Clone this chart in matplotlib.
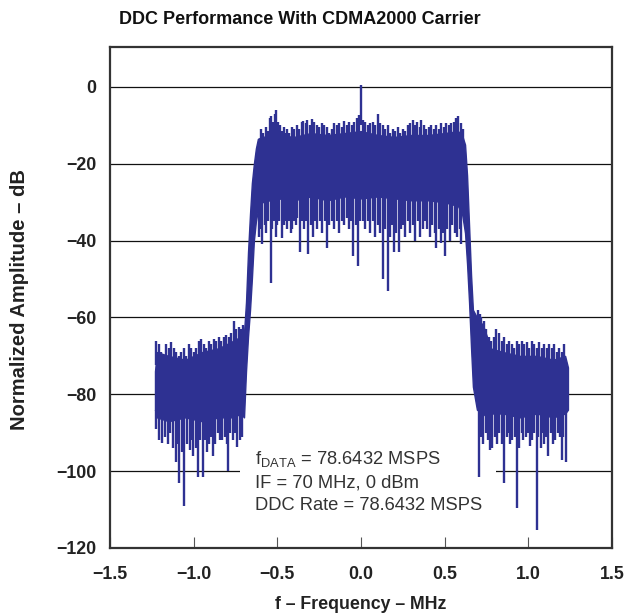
import numpy as np
import matplotlib
matplotlib.use("Agg")
import matplotlib.pyplot as plt
from matplotlib.patches import Rectangle

plt.rcParams['font.family'] = ['Liberation Sans', 'DejaVu Sans']

# solid part of the spectrum (MHz, dB)
freq = [-1.231, -1.22, -1.15, -1.05, -0.95, -0.85, -0.76, -0.72, -0.699, -0.687,
        -0.675, -0.663, -0.652, -0.640, -0.628, -0.616, -0.59, -0.5, -0.4, -0.3,
        -0.2, -0.1, 0.0, 0.1, 0.2, 0.3, 0.4, 0.5, 0.58, 0.604,
        0.622, 0.634, 0.646, 0.658, 0.669, 0.693, 0.729, 0.753, 0.771, 0.85,
        0.95, 1.05, 1.15, 1.22, 1.237]
upper = [-74, -69, -70, -71, -69, -68, -66, -65, -64, -56,
         -43, -33, -25, -20, -16, -13.5, -13, -12.5, -13, -12,
         -12.5, -12, -11.5, -12.5, -13, -12.5, -12.5, -12, -11.5, -12.5,
         -15, -23, -36, -49, -58, -60, -62, -65, -68, -69,
         -70, -70, -71, -70, -73]
lower = [-84, -86, -87, -86, -87, -86, -86, -85, -86, -74,
         -65, -58, -50, -40, -35, -32, -30, -29, -29.5, -28.5,
         -29.5, -28.5, -29, -28.5, -29, -29.5, -29.5, -30, -31, -33,
         -38, -46, -56, -68, -78, -84, -85, -86, -85, -85,
         -86, -85, -86, -85, -84]

# noise peaks above the solid band
peak_freq = [-1.225, -1.21, -1.195, -1.18, -1.165, -1.15, -1.135, -1.12, -1.105, -1.09,
             -1.075, -1.06, -1.045, -1.03, -1.015, -1.0, -0.985, -0.97, -0.955, -0.94,
             -0.925, -0.91, -0.895, -0.88, -0.865, -0.85, -0.835, -0.82, -0.805, -0.79,
             -0.775, -0.76, -0.745, -0.73, -0.715, -0.705,
             -0.60, -0.585, -0.57, -0.555, -0.545, -0.535, -0.525, -0.515, -0.505, -0.495,
             -0.485, -0.47, -0.46, -0.45, -0.44, -0.43, -0.415, -0.40, -0.385, -0.37,
             -0.355, -0.345, -0.33, -0.32, -0.305, -0.29, -0.28, -0.265, -0.25, -0.235,
             -0.22, -0.205, -0.19, -0.175, -0.16, -0.145, -0.13, -0.115, -0.10, -0.085,
             -0.07, -0.055, -0.04, -0.025, -0.012, 0.012, 0.025, 0.04, 0.055, 0.07,
             0.085, 0.10, 0.115, 0.13, 0.145, 0.16, 0.175, 0.19, 0.205, 0.22,
             0.235, 0.25, 0.265, 0.28, 0.295, 0.31, 0.325, 0.335, 0.35, 0.36,
             0.375, 0.39, 0.405, 0.42, 0.435, 0.45, 0.465, 0.48, 0.495, 0.51,
             0.525, 0.54, 0.555, 0.57, 0.58, 0.595, 0.61,
             0.70, 0.71, 0.72, 0.735, 0.75, 0.765, 0.78, 0.795, 0.81, 0.825,
             0.84, 0.855, 0.87, 0.885, 0.90, 0.915, 0.93, 0.945, 0.96, 0.975,
             0.99, 1.005, 1.02, 1.035, 1.05, 1.065, 1.08, 1.095, 1.11, 1.125,
             1.14, 1.155, 1.17, 1.185, 1.20, 1.215]
peak_db = [-66, -67, -69, -70, -67, -68, -66.5, -68, -69, -70,
           -69, -68, -70, -67, -68, -69, -68, -66, -65.5, -67,
           -68, -66, -67, -65.5, -66, -65, -66, -65, -64.5, -65,
           -64, -61, -63, -62.5, -63, -62,
           -11, -12, -10.5, -11.5, -8, -7.5, -9, -7, -6, -9,
           -10, -11.5, -10.5, -12, -11, -12, -10.5, -11, -10, -11,
           -9, -8.8, -9.5, -8.7, -10, -8.3, -9, -10, -10.5, -9.5,
           -10, -10.5, -12, -11, -9.5, -10, -9.3, -10.5, -8.8, -10,
           -9, -10, -9, -8, -7.3, -8.5, -9, -10, -9.5, -9,
           -10, -7, -9.5, -10, -11, -10, -12, -11, -11.5, -10.5,
           -12, -11, -11.5, -10, -9.5, -8.5, -10, -9, -10.5, -8.6,
           -10, -11, -10.5, -10, -11, -10, -11, -9.5, -10.5, -9.5,
           -10, -9.5, -9, -8, -7.5, -9.5, -11,
           -58, -59, -60, -61, -63, -65, -66, -65, -63, -64,
           -66, -65, -67, -66, -67, -68, -66, -67, -66, -67,
           -66.5, -68, -66, -67, -68, -66.5, -68, -67, -68, -67,
           -68, -67, -69, -68, -69, -67]

# notches below the solid band
dip_freq = [-1.225, -1.21, -1.191, -1.17, -1.155, -1.14, -1.125, -1.106, -1.095, -1.086,
            -1.07, -1.056, -1.04, -1.022, -1.01, -1.002, -0.985, -0.972, -0.96, -0.946,
            -0.935, -0.922, -0.91, -0.895, -0.886, -0.87, -0.855, -0.843, -0.83, -0.815,
            -0.80, -0.793, -0.78, -0.765, -0.75, -0.743, -0.725, -0.71,
            -0.61, -0.60, -0.59, -0.575, -0.565, -0.555, -0.54, -0.53, -0.52, -0.51,
            -0.50, -0.49, -0.472, -0.46, -0.45, -0.44, -0.43, -0.42, -0.41, -0.40,
            -0.39, -0.38, -0.365, -0.355, -0.34, -0.33, -0.317, -0.30, -0.287, -0.275,
            -0.26, -0.245, -0.23, -0.215, -0.203, -0.19, -0.175, -0.16, -0.143, -0.13,
            -0.115, -0.10, -0.085, -0.07, -0.06, -0.048, -0.03, -0.018, -0.005, 0.01,
            0.025, 0.04, 0.055, 0.07, 0.085, 0.10, 0.115, 0.131, 0.145, 0.161,
            0.175, 0.185, 0.197, 0.21, 0.227, 0.24, 0.251, 0.265, 0.28, 0.295,
            0.31, 0.325, 0.34, 0.355, 0.37, 0.385, 0.395, 0.41, 0.425, 0.44,
            0.45, 0.465, 0.48, 0.49, 0.50, 0.515, 0.53, 0.545, 0.562, 0.575,
            0.59, 0.60,
            0.707, 0.715, 0.73, 0.745, 0.76, 0.771, 0.785, 0.80, 0.811, 0.825,
            0.84, 0.857, 0.87, 0.88, 0.891, 0.905, 0.92, 0.931, 0.945, 0.96,
            0.970, 0.985, 1.0, 1.010, 1.025, 1.035, 1.050, 1.06, 1.075, 1.085,
            1.096, 1.105, 1.120, 1.135, 1.149, 1.16, 1.175, 1.19, 1.200, 1.21,
            1.225]
dip_db = [-89, -92, -92.7, -91, -93, -90, -94, -97.7, -93, -103,
          -95, -109, -93, -94.5, -92, -96, -94, -101.5, -92, -101.5,
          -92, -95, -93, -91, -96, -93, -90, -92, -92, -91,
          -93, -100, -90, -92, -90, -93.7, -92, -91,
          -39, -37, -41, -36, -38, -35, -51, -37, -35, -39,
          -36, -35, -39.4, -36, -35, -37, -35, -38, -37, -35,
          -36, -34, -43, -35, -37, -35, -43.5, -36, -39, -35,
          -37, -35, -38, -35, -42, -36, -35, -37, -35, -38,
          -35, -36, -34, -37, -35, -44, -36, -46.5, -35, -35,
          -37, -35, -38, -35, -39, -36, -38, -50, -37, -53,
          -39, -36, -43, -38, -43, -37, -36, -39, -35, -38,
          -36, -40, -35, -39, -37, -35, -37, -39, -36, -38,
          -42, -37, -40.6, -38, -44, -37, -40, -36, -38, -39,
          -37, -41,
          -101.5, -91, -93, -90, -92, -94.5, -94, -91, -93, -90,
          -93, -103, -91, -90, -93, -92, -91, -109.6, -94, -90,
          -92, -91, -90, -93.5, -92, -90, -115.4, -91, -94, -90,
          -93, -91, -96, -90, -93, -92, -90, -91, -97, -91,
          -97.5]

# carrier
carrier_freq = 0.0
carrier_db = 0.5

blue = '#2e3192'

fig = plt.figure(figsize=(6.27, 6.16), dpi=100)
ax = fig.add_axes([0.1754, 0.1104, 0.8006, 0.8133])

ax.fill_between(freq, lower, upper, color=blue, lw=1.0, zorder=3)
peak_base = np.interp(peak_freq, freq, upper) - 1
ax.vlines(peak_freq, peak_base, peak_db, color=blue, lw=1.7, zorder=3)
dip_base = np.interp(dip_freq, freq, lower) + 1
ax.vlines(dip_freq, dip_db, dip_base, color=blue, lw=1.7, zorder=3)
ax.vlines(carrier_freq, -10, carrier_db, color=blue, lw=1.7, zorder=3)

ax.set_xlim(-1.5, 1.5)
ax.set_ylim(-120, 10.4)
ax.set_xticks([-1.5, -1.0, -0.5, 0.0, 0.5, 1.0, 1.5])
ax.set_xticklabels(['\u22121.5', '\u22121.0', '\u22120.5', '0.0', '0.5', '1.0', '1.5'])
ax.set_yticks([0, -20, -40, -60, -80, -100, -120])
ax.set_yticklabels(['0', '\u221220', '\u221240', '\u221260', '\u221280', '\u2212100', '\u2212120'])
for y in [0, -20, -40, -60, -80, -100]:
    ax.axhline(y, color='#111111', lw=0.9, zorder=1)

ax.tick_params(axis='x', direction='in', length=8, width=0.8, color='#555555',
               pad=13, labelsize=12.8)
ax.tick_params(axis='y', length=0, pad=10, labelsize=12.8)
for lab in ax.get_xticklabels() + ax.get_yticklabels():
    lab.set_fontweight('bold')
    lab.set_color('#222222')
for s in ax.spines.values():
    s.set_linewidth(1.6)
    s.set_color('#333333')

# white box behind the notes breaks the -100 gridline
ax.add_patch(Rectangle((-0.72, -110), 1.53, 18, facecolor='white', edgecolor='none', zorder=2))
ax.text(-0.634, -102.6, '$\\mathregular{f_{DATA}}$ = 78.6432 MSPS\nIF = 70 MHz, 0 dBm\nDDC Rate = 78.6432 MSPS',
        fontsize=13.2, color='#333333', va='center', ha='left', linespacing=1.42, zorder=2.5)

fig.text(300 / 627, 1 - 19 / 616, 'DDC Performance With CDMA2000 Carrier',
         fontsize=13, fontweight='bold', ha='center', va='center', color='#111111')
ax.set_xlabel('f \u2013 Frequency \u2013 MHz', fontsize=12.8, fontweight='bold', color='#222222', labelpad=9)
fig.text(20 / 627, 1 - 300 / 616, 'Normalized Amplitude \u2013 dB', rotation=90,
         fontsize=14.5, fontweight='bold', color='#222222', ha='center', va='center')

fig.savefig('out.png', dpi=100)
